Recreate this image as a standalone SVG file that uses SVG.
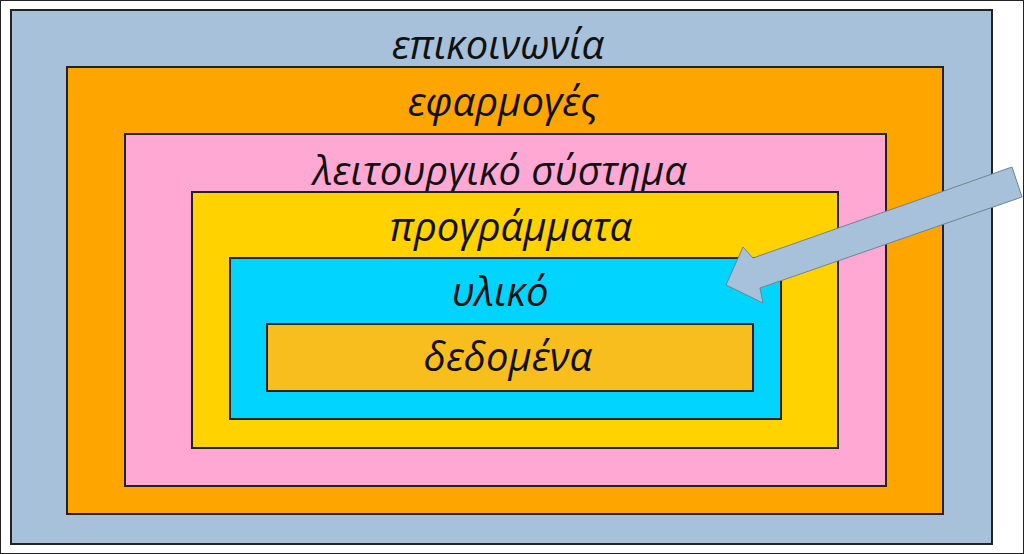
<svg xmlns="http://www.w3.org/2000/svg" width="1024" height="554" viewBox="0 0 1024 554">
<style>
rect{stroke:#222;stroke-width:2}
text{font-family:"Open Sans","Liberation Sans",sans-serif;font-style:italic;font-size:40px;fill:#111;text-anchor:middle}
</style>
<rect x="0" y="0" width="1024" height="554" fill="#fff" stroke="none"/>
<g id="communication"><rect x="11" y="10" width="981" height="534" fill="#A6C1D9"/><text x="498" y="59">επικοινωνία</text></g>
<g id="applications"><rect x="67" y="67" width="876" height="447" fill="#FFA500"/><text x="503" y="116">εφαρμογές</text></g>
<g id="os"><rect x="125" y="134" width="761" height="352" fill="#FFA8D4"/><text x="500" y="185">λειτουργικό σύστημα</text></g>
<g id="programs"><rect x="192" y="192" width="646" height="256" fill="#FFD200"/><text x="511" y="241">προγράμματα</text></g>
<g id="hardware"><rect x="230" y="258" width="551" height="161" fill="#00D4FF"/><text x="500" y="306">υλικό</text></g>
<g id="data"><rect x="267" y="324" width="486" height="67" fill="#F8BE1E"/><text x="508" y="371">δεδομένα</text></g>
<g id="connectors"><polygon points="1012,167 1022,197 760,288 763,303 726,285 743,247 753,258" fill="#A6C1D9" stroke="#6F8394" stroke-width="1"/></g>
</svg>
